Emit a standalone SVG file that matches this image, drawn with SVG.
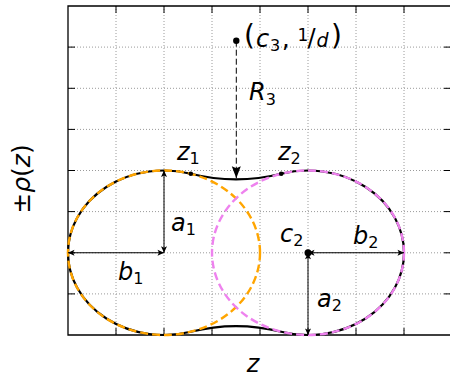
<svg xmlns="http://www.w3.org/2000/svg" width="450" height="378" viewBox="0 0 450 378">
<style>
.grid{stroke:#9a9a9a;stroke-width:1;stroke-dasharray:1 2;fill:none}
.tick{stroke:#000;stroke-width:1;fill:none}
.frame{stroke:#000;stroke-width:1.3;fill:none}
.outline{stroke:#000;stroke-width:2.2;fill:none}
.e1{stroke:#FFA500;stroke-width:2.4;stroke-dasharray:8 4;fill:none}
.e2{stroke:#EE82EE;stroke-width:2.4;stroke-dasharray:8 4;fill:none}
.dim{stroke:#000;stroke-width:1;fill:none;marker-start:url(#arr);marker-end:url(#arr)}
.r3{stroke:#000;stroke-width:1;fill:none;stroke-dasharray:6 3;marker-end:url(#big)}
text{font-family:"DejaVu Sans","Liberation Sans",sans-serif;font-size:24px;fill:#000}
.it{font-style:oblique}
.up{font-style:normal}
.sub{font-size:16px;font-style:normal}
</style>
<defs>
<marker id="arr" viewBox="-8 -4 9 8" refX="0" refY="0" markerWidth="9" markerHeight="8" orient="auto-start-reverse" markerUnits="userSpaceOnUse">
<path d="M0,0 L-6.5,-3 L-5,0 L-6.5,3 Z" fill="#000"/>
</marker>
<marker id="big" viewBox="-13 -6 14 12" refX="0" refY="0" markerWidth="14" markerHeight="12" orient="auto" markerUnits="userSpaceOnUse">
<path d="M0,0 L-12,-4.5 L-10,0 L-12,4.5 Z" fill="#000"/>
</marker>
</defs>
<g id="grid">
<path class="grid" d="M116,6V335M164,6V335M212,6V335M260,6V335M308,6V335M356,6V335M404,6V335"/>
<path class="grid" d="M68,47.1H450M68,88.3H450M68,129.4H450M68,170.5H450M68,211.6H450M68,252.8H450M68,293.9H450"/>
</g>
<g id="axes">
<path class="frame" d="M452,6H68V335H452"/>
<path class="tick" d="M68,47.1h7M68,88.3h7M68,129.4h7M68,170.5h7M68,211.6h7M68,252.8h7M68,293.9h7"/>
<path class="tick" d="M452,47.1h-8M452,88.3h-8M452,129.4h-8M452,170.5h-8M452,211.6h-8M452,252.8h-8M452,293.9h-8"/>
<path class="tick" d="M116,335v-7M164,335v-7M212,335v-7M260,335v-7M308,335v-7M356,335v-7M404,335v-7"/>
<path class="tick" d="M116,6v7M164,6v7M212,6v7M260,6v7M308,6v7M356,6v7M404,6v7"/>
</g>
<g id="shape">
<path id="outline" class="outline" d="M190.81,173.77 A96,82.25 0 1 0 190.81,331.73 A161.76,138.59 0 0 1 281.19,331.73 A96,82.25 0 1 0 281.19,173.77 A161.76,138.59 0 0 1 190.81,173.77 Z"/>
<ellipse id="ellipse1" class="e1" cx="164" cy="252.75" rx="96" ry="82.25"/>
<ellipse id="ellipse2" class="e2" cx="308" cy="252.75" rx="96" ry="82.25"/>
</g>
<g id="connectors">
<line class="dim" x1="164" y1="170.5" x2="164" y2="252.75"/>
<line class="dim" x1="68" y1="252.75" x2="164" y2="252.75"/>
<line class="dim" x1="308" y1="252.75" x2="404" y2="252.75"/>
<line class="dim" x1="308" y1="252.75" x2="308" y2="335"/>
<line class="r3" x1="236.3" y1="40.7" x2="236.3" y2="178.3"/>
</g>
<g id="c3">
<circle cx="236.3" cy="40.7" r="3.2"/>
<text class="up" x="244" y="45" style="font-size:28px">(</text>
<text class="it" x="256" y="46.5">c</text>
<text class="sub" x="270" y="51">3</text>
<text class="up" x="282" y="46.5">,</text>
<text class="up" x="297.5" y="41" style="font-size:17px">1</text>
<text class="up" x="307.5" y="46" style="font-size:24px">/</text>
<text class="it" x="316.5" y="47" style="font-size:19px">d</text>
<text class="up" x="331" y="45" style="font-size:28px">)</text>
</g>
<g id="R3"><text class="it" x="249" y="100">R<tspan class="sub" dy="5">3</tspan></text></g>
<g id="z1"><circle cx="190.81" cy="173.77" r="2.3"/><text class="it" x="177" y="160">z<tspan class="sub" dy="4">1</tspan></text></g>
<g id="z2"><circle cx="281.19" cy="173.77" r="2.3"/><text class="it" x="278" y="159.5">z<tspan class="sub" dy="4">2</tspan></text></g>
<g id="a1"><text class="it" x="171" y="231">a<tspan class="sub" dy="4">1</tspan></text></g>
<g id="b1"><text class="it" x="118" y="280">b<tspan class="sub" dy="4">1</tspan></text></g>
<g id="c2"><circle cx="308" cy="252.75" r="3.5"/><text class="it" x="280" y="242">c<tspan class="sub" dy="4">2</tspan></text></g>
<g id="b2"><text class="it" x="353" y="244">b<tspan class="sub" dy="4">2</tspan></text></g>
<g id="a2"><text class="it" x="317" y="306.5">a<tspan class="sub" dy="4">2</tspan></text></g>
<g id="xlabel"><text class="it" x="253" y="372" text-anchor="middle">z</text></g>
<g id="ylabel"><text transform="translate(30,179) rotate(-90)" text-anchor="middle" style="font-size:25px"><tspan class="up">±</tspan><tspan class="it">ρ</tspan><tspan class="up">(</tspan><tspan class="it">z</tspan><tspan class="up">)</tspan></text></g>
</svg>
